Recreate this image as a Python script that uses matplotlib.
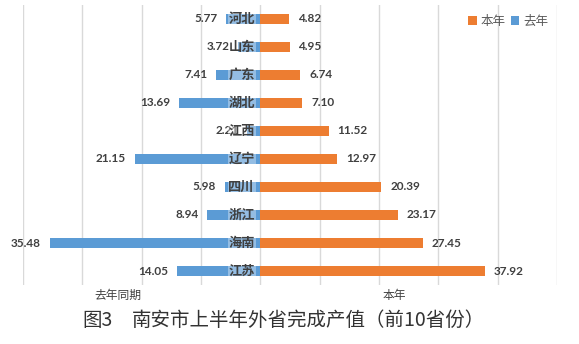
import matplotlib.pyplot as plt
import numpy as np

provinces = ['河北', '山东', '广东', '湖北', '江西', '辽宁', '四川', '浙江', '海南', '江苏']
this_year = [4.82, 4.95, 6.74, 7.10, 11.52, 12.97, 20.39, 23.17, 27.45, 37.92]
last_year = [5.77, 3.72, 7.41, 13.69, 2.21, 21.15, 5.98, 8.94, 35.48, 14.05]
bottom_labels = ['去年同期', '本年']

plt.rcParams['font.family'] = ['Noto Sans CJK SC', 'DejaVu Sans']

BLUE = '#5B9BD5'
ORANGE = '#ED7D31'
TXT = '#404040'


def main():
    fig = plt.figure(figsize=(5.79, 3.44), dpi=100)
    ax = fig.add_axes([0.0397, 0.1715, 0.922, 0.814])
    y = np.arange(len(provinces))

    ax.barh(y, this_year, height=0.36, color=ORANGE, label='本年', zorder=2)
    ax.barh(y, [-v for v in last_year], height=0.36, color=BLUE, label='去年', zorder=2)

    for i in range(len(provinces)):
        ax.text(this_year[i] + 1.5, y[i], '%.2f' % this_year[i], ha='left', va='center',
                fontsize=8.5, fontweight='bold', color=TXT, family=['Lato', 'DejaVu Sans'], zorder=3)
        ax.text(-last_year[i] - 1.5, y[i], '%.2f' % last_year[i], ha='right', va='center',
                fontsize=8.5, fontweight='bold', color=TXT, family=['Lato', 'DejaVu Sans'], zorder=3)
        ax.text(-0.9, y[i], provinces[i], ha='right', va='center', fontsize=9.5,
                fontweight='bold', color=TXT, zorder=4,
                bbox=dict(boxstyle='square,pad=0.05', fc='white', ec='none', alpha=0.35))

    ax.set_xlim(-40, 50)
    ax.set_ylim(len(provinces) - 0.5, -0.5)
    ax.set_xticks(np.arange(-40, 51, 10))
    ax.set_xticklabels([])
    ax.set_yticks([])
    ax.tick_params(length=0)
    ax.grid(axis='x', color='#D9D9D9', linewidth=1, zorder=0)
    for s in ax.spines.values():
        s.set_visible(False)

    ax.text(-24, -0.015, bottom_labels[0], transform=ax.get_xaxis_transform(), ha='center',
            va='top', fontsize=8.5, color=TXT)
    ax.text(22.6, -0.015, bottom_labels[1], transform=ax.get_xaxis_transform(), ha='center',
            va='top', fontsize=8.5, color=TXT)

    ax.legend(loc='upper right', bbox_to_anchor=(1.005, 1.005), ncol=2, frameon=False,
              fontsize=9, handlelength=0.7, handleheight=0.7, handletextpad=0.3,
              columnspacing=0.4, labelcolor='#595959')

    fig.text(0.143, 0.068, '图3', fontsize=14, color='#333333', ha='left', va='center')
    fig.text(0.228, 0.068, '南安市上半年外省完成产值（前10省份）', fontsize=14,
             color='#333333', ha='left', va='center')

    fig.savefig('out.png', dpi=100)


if __name__ == '__main__':
    main()
